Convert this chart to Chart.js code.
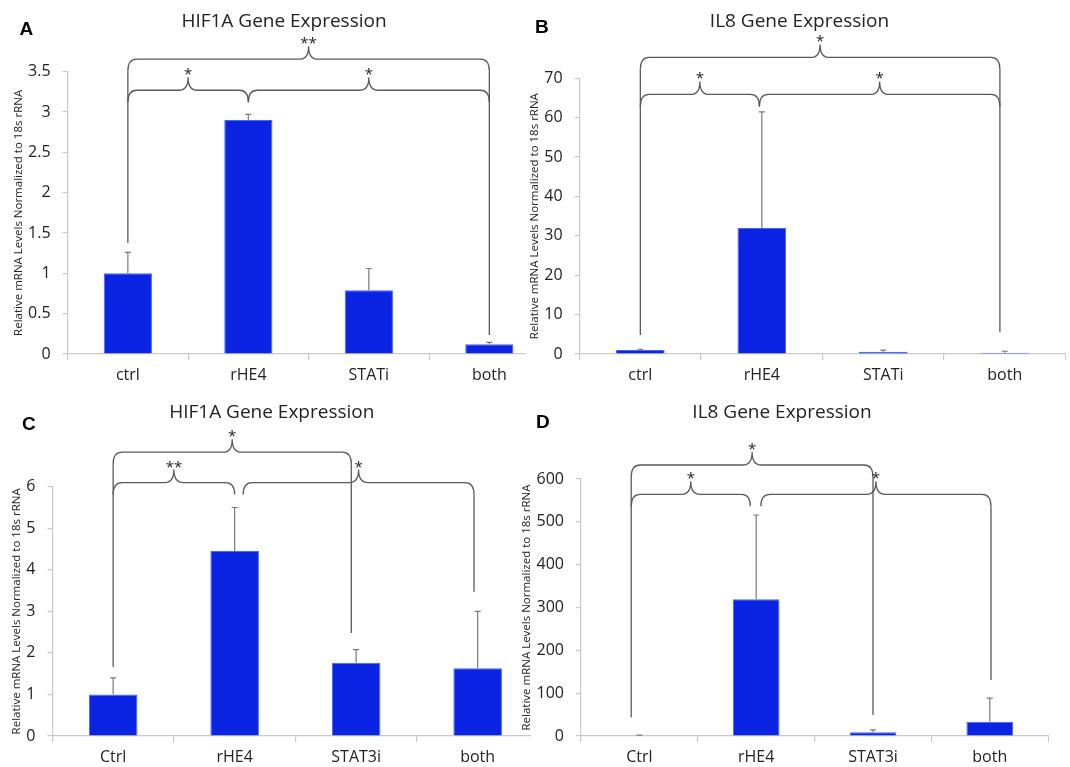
<!DOCTYPE html>
<html>
<head>
<meta charset="utf-8">
<script src="https://cdn.jsdelivr.net/npm/chart.js@4.4.1/dist/chart.umd.min.js"></script>
<style>
  body { margin: 0; background: #fff; width: 1070px; height: 767px; position: relative; overflow: hidden; }
  .clip { position: absolute; overflow: hidden; }
  canvas { position: absolute; left: 0; top: 0; }
</style>
</head>
<body>
<div class="clip" style="left:0;top:0;width:526px;height:395px"><canvas id="chartA" width="550" height="395"></canvas></div>
<div class="clip" style="left:526px;top:0;width:544px;height:395px"><canvas id="chartB" width="540" height="395"></canvas></div>
<div class="clip" style="left:0;top:395px;width:531px;height:372px"><canvas id="chartC" width="539" height="372"></canvas></div>
<div class="clip" style="left:518px;top:395px;width:552px;height:372px"><canvas id="chartD" width="531" height="372"></canvas></div>
<script>
// categories
const topCats = ['ctrl', 'rHE4', 'STATi', 'both'];
const bottomCats = ['Ctrl', 'rHE4', 'STAT3i', 'both'];

// means and upper error (SD)
const hifA = [1.0, 2.9, 0.79, 0.12];
const hifAErr = [0.26, 0.07, 0.27, 0.025];
const il8B = [1.0, 32.0, 0.6, 0.3];
const il8BErr = [0.2, 29.5, 0.4, 0.4];
const hifC = [1.0, 4.45, 1.76, 1.63];
const hifCErr = [0.4, 1.05, 0.32, 1.37];
const il8D = [1.0, 319, 8.5, 33.5];
const il8DErr = [1.0, 197, 6, 55];

// y axis ranges
const yMaxA = 3.5, yStepA = 0.5;
const yMaxB = 70, yStepB = 10;
const yMaxC = 6, yStepC = 1;
const yMaxD = 600, yStepD = 100;

// significance braces: [from category, to category, level, stars]
const bracketsA = [[0, 3, 3.655, '**'], [0, 1, 3.27, '*'], [1, 3, 3.27, '*']];
const bracketsB = [[0, 2.96, 75.3, '*'], [0, 0.98, 65.9, '*'], [0.98, 2.96, 65.9, '*']];
const bracketsC = [[0, 1.96, 6.83, '*'], [0, 1, 6.1, '**'], [1.07, 2.97, 6.1, '*']];
const bracketsD = [[-0.07, 2, 632.7, '*'], [-0.07, 0.95, 564.3, '*'], [1.04, 3.01, 564.3, '*']];
// vertical leader lines: [category, from level, to level]
const dropsA = [[0, 3.655, 1.375], [3, 3.655, 0.235]];
const dropsB = [[0, 75.3, 4.8], [2.96, 75.3, 5.6]];
const dropsC = [[0, 6.83, 1.66], [1.96, 6.83, 2.48], [2.97, 6.1, 3.47]];
const dropsD = [[-0.07, 632.7, 44], [2, 632.7, 49], [3.01, 564.3, 131]];

const yTitle = 'Relative mRNA Levels Normalized to 18s rRNA';
const textColor = '#222';
const axisColor = '#c9c9c9';

const annotate = {
  id: 'annotate',
  afterDatasetsDraw(chart, args, o) {
    const ctx = chart.ctx;
    const xs = chart.scales.x, ys = chart.scales.y;
    const meta = chart.getDatasetMeta(0);
    ctx.save();
    // error bars (upper only)
    ctx.strokeStyle = '#7a7a7a';
    ctx.lineWidth = 1.2;
    o.errs.forEach((e, i) => {
      const v = chart.data.datasets[0].data[i];
      const bx = meta.data[i].x;
      const y0 = ys.getPixelForValue(v);
      const y1 = ys.getPixelForValue(v + e);
      ctx.beginPath();
      ctx.moveTo(bx, y0); ctx.lineTo(bx, y1);
      ctx.moveTo(bx - 3, y1); ctx.lineTo(bx + 3, y1);
      ctx.stroke();
    });
    // braces
    const curl = 12, r = 9, tip = 13;
    ctx.strokeStyle = '#5a5a5a';
    ctx.lineWidth = 1.3;
    o.drops.forEach(([c, from, to]) => {
      const px = xs.getPixelForValue(c);
      ctx.beginPath();
      ctx.moveTo(px, ys.getPixelForValue(from) + curl);
      ctx.lineTo(px, ys.getPixelForValue(to));
      ctx.stroke();
    });
    ctx.fillStyle = textColor;
    ctx.font = '15px "Open Sans"';
    ctx.textAlign = 'center';
    ctx.textBaseline = 'alphabetic';
    o.brackets.forEach(([a, b, lvl, stars]) => {
      const x1 = xs.getPixelForValue(a), x2 = xs.getPixelForValue(b);
      const xm = (x1 + x2) / 2;
      const yl = ys.getPixelForValue(lvl);
      ctx.beginPath();
      ctx.moveTo(x1, yl + curl);
      ctx.quadraticCurveTo(x1, yl, x1 + r, yl);
      ctx.lineTo(xm - r, yl);
      ctx.quadraticCurveTo(xm, yl, xm, yl - tip);
      ctx.quadraticCurveTo(xm, yl, xm + r, yl);
      ctx.lineTo(x2 - r, yl);
      ctx.quadraticCurveTo(x2, yl, x2, yl + curl);
      ctx.stroke();
      ctx.fillText(stars, xm, yl - 11);
    });
    // panel title and letter
    ctx.font = '19px "Open Sans"';
    ctx.fillText(o.title, o.titleX, o.titleY);
    ctx.font = 'bold 19px "Liberation Sans"';
    ctx.textAlign = 'left';
    ctx.fillStyle = '#000';
    ctx.fillText(o.letter, o.letterX, o.letterY);
    ctx.restore();
  }
};

function makePanel(cfg) {
  return new Chart(document.getElementById(cfg.id), {
    type: 'bar',
    data: {
      labels: cfg.cats,
      datasets: [{
        data: cfg.values,
        backgroundColor: '#0b24e3',
        borderColor: '#4666f5',
        borderWidth: 1,
        categoryPercentage: 1,
        barPercentage: 0.4
      }]
    },
    options: {
      responsive: false,
      animation: false,
      devicePixelRatio: 1,
      layout: { padding: { top: cfg.padTop, right: cfg.padRight, left: 0, bottom: 0 } },
      plugins: {
        legend: { display: false },
        tooltip: { enabled: false },
        annotate: {
          errs: cfg.errs, brackets: cfg.brackets, drops: cfg.drops,
          title: cfg.title, titleX: cfg.titleX, titleY: cfg.titleY,
          letter: cfg.letter, letterX: cfg.letterX, letterY: cfg.letterY
        }
      },
      scales: {
        x: {
          afterFit: s => { s.height = cfg.xH; },
          border: { display: true, color: axisColor, width: 1.2 },
          grid: { offset: true, drawOnChartArea: false, drawTicks: true, tickLength: 6, color: axisColor, lineWidth: 1.2 },
          ticks: { color: textColor, font: { family: 'Open Sans', size: 16 }, padding: 6, maxRotation: 0 }
        },
        y: {
          min: 0, max: cfg.yMax,
          afterFit: s => { s.width = cfg.yW; },
          border: { display: true, color: axisColor, width: 1.2 },
          grid: { drawOnChartArea: false, drawTicks: true, tickLength: 5, color: axisColor, lineWidth: 1.2 },
          ticks: {
            stepSize: cfg.yStep, color: textColor, font: { family: 'Open Sans', size: 16 }, padding: 12,
            callback: v => String(+v.toFixed(2))
          },
          title: { display: true, text: yTitle, color: textColor, font: { family: 'Open Sans', size: 11.5 }, padding: { top: cfg.yTitlePad, bottom: 0 } }
        }
      }
    },
    plugins: [annotate]
  });
}

makePanel({ id: 'chartA', cats: topCats, values: hifA, errs: hifAErr, yMax: yMaxA, yStep: yStepA,
  brackets: bracketsA, drops: dropsA, yW: 67.6, xH: 41, padTop: 71.7, padRight: 0.4, yTitlePad: 11.6,
  title: 'HIF1A Gene Expression', titleX: 284, titleY: 27, letter: 'A', letterX: 19.6, letterY: 35 });
makePanel({ id: 'chartB', cats: topCats, values: il8B, errs: il8BErr, yMax: yMaxB, yStep: yStepB,
  brackets: bracketsB, drops: dropsB, yW: 53.6, xH: 41, padTop: 78.3, padRight: 0.5, yTitlePad: 2,
  title: 'IL8 Gene Expression', titleX: 799.5 - 526, titleY: 27, letter: 'B', letterX: 535 - 526, letterY: 33.3 });
makePanel({ id: 'chartC', cats: bottomCats, values: hifC, errs: hifCErr, yMax: yMaxC, yStep: yStepC,
  brackets: bracketsC, drops: dropsC, yW: 52.4, xH: 31, padTop: 91.7, padRight: 0.6, yTitlePad: 10,
  title: 'HIF1A Gene Expression', titleX: 271.8, titleY: 417.5 - 395, letter: 'C', letterX: 22, letterY: 430 - 395 });
makePanel({ id: 'chartD', cats: bottomCats, values: il8D, errs: il8DErr, yMax: yMaxD, yStep: yStepD,
  brackets: bracketsD, drops: dropsD, yW: 63, xH: 31, padTop: 84, padRight: 0.8, yTitlePad: 2,
  title: 'IL8 Gene Expression', titleX: 782 - 518, titleY: 417.5 - 395, letter: 'D', letterX: 536 - 518, letterY: 428.3 - 395 });
</script>
</body>
</html>
